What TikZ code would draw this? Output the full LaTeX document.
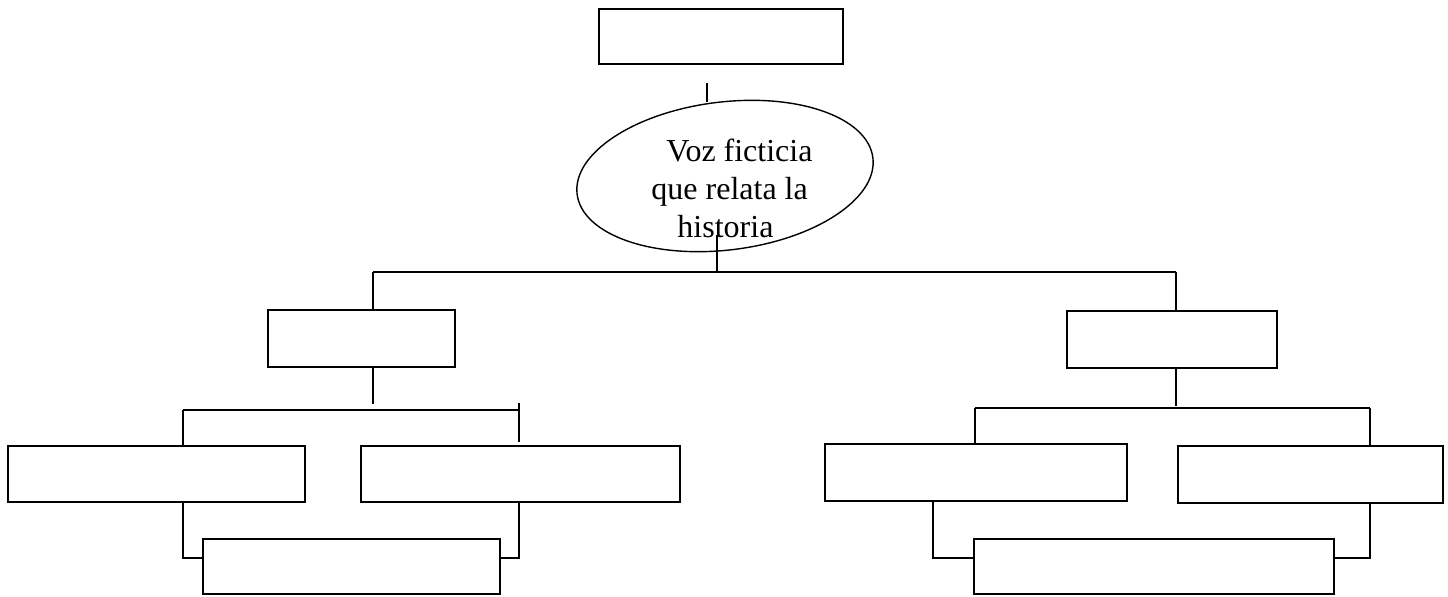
\documentclass[tikz,border=0pt]{standalone}
\usepackage{fontspec}
\setmainfont{Liberation Serif}
\usepackage{tikz}
\usetikzlibrary{shapes.geometric}

\tikzset{
	caja/.style={draw, line width=0.9pt, inner sep=0pt},
	enlace/.style={line width=0.9pt}
}

\begin{document}
\begin{tikzpicture}[x=0.5pt,y=-0.5pt]
		\useasboundingbox (0,0) rectangle (1448,596);
		% cajas
		\node[caja, minimum width=122pt, minimum height=27.5pt] (top) at (721,36.5) {};
		\node[draw, ellipse, line width=0.7pt, minimum width=149pt, minimum height=74pt, rotate=7] (ell) at (725,176) {};
		\node[align=left, inner sep=0pt, font=\fontsize{16}{19}\selectfont] (elltxt) at (732,188)
			{\hspace{7.5pt}Voz ficticia\\que relata la\\\hspace{13pt}historia};
		\node[caja, minimum width=93.5pt, minimum height=28.5pt] (lmid) at (361.5,338.5) {};
		\node[caja, minimum width=105pt, minimum height=28.5pt] (rmid) at (1172,339.5) {};
		\node[caja, minimum width=148.5pt, minimum height=28pt] (ll) at (156.5,474) {};
		\node[caja, minimum width=159.5pt, minimum height=28pt] (lr) at (520.5,474) {};
		\node[caja, minimum width=148.5pt, minimum height=27.5pt] (lb) at (351.5,566.5) {};
		\node[caja, minimum width=151pt, minimum height=28.5pt] (rl) at (976,472.5) {};
		\node[caja, minimum width=132.5pt, minimum height=28.5pt] (rr) at (1310.5,474.5) {};
		\node[caja, minimum width=180pt, minimum height=27.5pt] (rb) at (1154,566.5) {};
		% puntos de las lineas
		\coordinate (sa) at (707,83);
		\coordinate (sb) at (717,235);
		\coordinate (hub) at (717,272);
		\coordinate (hl) at (373,272);
		\coordinate (hr) at (1176,272);
		\coordinate (ljoin) at (373,404);
		\coordinate (lh1) at (183,410);
		\coordinate (lh2) at (519,410);
		\coordinate (lt1) at (519,403);
		\coordinate (lt2) at (519,442);
		\coordinate (lk1) at (183,558);
		\coordinate (lk2) at (519,558);
		\coordinate (rjoin) at (1176,406);
		\coordinate (rh1) at (975,408);
		\coordinate (rh2) at (1370,408);
		\coordinate (rk1) at (933,558);
		\coordinate (rk2) at (1370,558);
		% lineas
		\draw[enlace] (sa) -- (sa |- ell.north);
		\draw[enlace] (sb) -- (hub);
		\draw[enlace] (hl) -- (hr);
		\draw[enlace] (hl) -- (hl |- lmid.north);
		\draw[enlace] (hr) -- (hr |- rmid.north);
		\draw[enlace] (lmid.south -| ljoin) -- (ljoin);
		\draw[enlace] (lh1) -- (lh2);
		\draw[enlace] (lt1) -- (lt2);
		\draw[enlace] (lh1) -- (lh1 |- ll.north);
		\draw[enlace] (ll.south -| lk1) -- (lk1) -- (lk1 -| lb.west);
		\draw[enlace] (lr.south -| lk2) -- (lk2) -- (lk2 -| lb.east);
		\draw[enlace] (rmid.south -| rjoin) -- (rjoin);
		\draw[enlace] (rh1) -- (rh2);
		\draw[enlace] (rh1) -- (rh1 |- rl.north);
		\draw[enlace] (rh2) -- (rh2 |- rr.north);
		\draw[enlace] (rl.south -| rk1) -- (rk1) -- (rk1 -| rb.west);
		\draw[enlace] (rr.south -| rk2) -- (rk2) -- (rk2 -| rb.east);
	\end{tikzpicture}
\end{document}
